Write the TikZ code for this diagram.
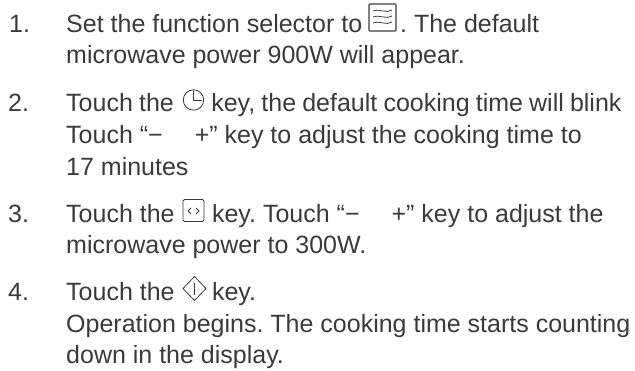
\documentclass[tikz,border=0pt]{standalone}
\usepackage{fontspec}
\setmainfont{Liberation Sans}
\definecolor{inktext}{HTML}{3A3A3A}
\newcommand{\blank}[1]{\hspace*{#1}}
\begin{document}
\frenchspacing
\begin{tikzpicture}[x=1pt,y=-1pt]
  \useasboundingbox (0,0) rectangle (635,370);

  \begin{scope}[every node/.style={anchor=base west, inner sep=0pt, text=inktext, font=\fontsize{25}{29}\selectfont}]
    \node (n1) at (9,32) {1.};
    \node (l1a) at (66,32) {Set the function selector to\blank{38pt}. The default};
    \node (l1b) at (66,63) {microwave power 900W will appear.};

    \node (n2) at (8,111) {2.};
    \node (l2a) at (66,111) {\spaceskip=6.15pt Touch the\blank{37.5pt}key, the default cooking time will blink};
    \node (l2b) at (66,143) {Touch “−\blank{32pt}+” key to adjust the cooking time to};
    \node (l2c) at (66,175) {17 minutes};

    \node (n3) at (8,222) {3.};
    \node (l3a) at (66,222) {Touch the\blank{37.5pt}key. Touch “−\blank{32pt}+” key to adjust the};
    \node (l3b) at (66,253) {microwave power to 300W.};

    \node (n4) at (8,300) {4.};
    \node (l4a) at (66,300) {Touch the\blank{37.5pt}key.};
    \node (l4b) at (66,332) {Operation begins. The cooking time starts counting};
    \node (l4c) at (66,363) {down in the display.};
  \end{scope}

  % key icons
  \begin{scope}[inktext, line width=.8pt]
    \draw[line width=1.1pt, rounded corners=.8pt] (369,4) rectangle (396,31);
    \draw (373,11) .. controls (378,8) and (387,14) .. (392,10);
    \draw (373,17) .. controls (378,14) and (387,20) .. (392,16);
    \draw (373,23) .. controls (378,20) and (387,26) .. (392,22);

    \draw (193.5,100) circle (10.2);
    \draw (193.5,91) -- (193.5,100) -- (202,100);

    \draw[rounded corners=1.5pt] (183,199.5) rectangle (204,221.5);
    \draw (191,208) -- (188,211) -- (191,214);
    \draw (196,208) -- (199,211) -- (196,214);

    \draw[line join=round] (194.5,276.5) -- (206,288.5) -- (194.5,300.5) -- (183,288.5) -- cycle;
    \draw (194.5,283) -- (194.5,295);
  \end{scope}
\end{tikzpicture}
\end{document}
